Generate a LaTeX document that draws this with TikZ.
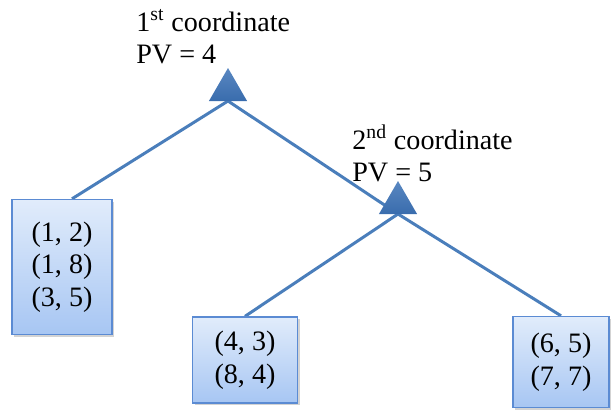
\documentclass[tikz,border=0pt]{standalone}
\usepackage{fontspec}
\setmainfont{Liberation Serif}
\definecolor{kdline}{RGB}{74,126,187}
\definecolor{kdtri}{RGB}{60,114,182}
\definecolor{kdboxtop}{RGB}{225,236,251}
\definecolor{kdboxbot}{RGB}{167,198,243}
\definecolor{kdborder}{RGB}{91,139,211}
\usetikzlibrary{positioning,shapes.geometric,shadows,backgrounds}

\begin{document}
\begin{tikzpicture}[x=0.02cm,y=-0.02cm,
  leaf/.style={draw=kdborder,line width=0.8pt,top color=kdboxtop,bottom color=kdboxbot,drop shadow={shadow xshift=1.2pt,shadow yshift=-1.2pt,opacity=0.35},font=\fontsize{16}{18.5}\selectfont,align=center,inner sep=0pt},
  split/.style={regular polygon,regular polygon sides=3,minimum size=0.88cm,inner sep=0pt,outer sep=0pt,anchor=south,top color=kdtri!85!white,bottom color=kdtri!95!black,draw=none},
  label/.style={font=\fontsize{16}{18.5}\selectfont,align=left,anchor=north west,inner sep=0pt},
  edge/.style={draw=kdline,line width=1.7pt}]
  \useasboundingbox (0,0) rectangle (611,410);
  % Splitting points
  \node[split] (s1) at (228,101) {};
  \node[split] (s2) at (398,214) {};
  \node[label] (l1) at (136,9) {1\textsuperscript{st} coordinate\\PV = 4};
  \node[label] (l2) at (352,124) {2\textsuperscript{nd} coordinate\\PV = 5};
  % Leaves
  \node[leaf,minimum width=2cm,minimum height=2.7cm] (b1) at (62,267) {(1, 2)\\(1, 8)\\(3, 5)};
  \node[leaf,minimum width=2.1cm,minimum height=1.72cm] (b2) at (245,360) {(4, 3)\\(8, 4)};
  \node[leaf,minimum width=1.92cm,minimum height=1.82cm] (b3) at (561,362) {(6, 5)\\(7, 7)};
  % Edges
  \begin{scope}[on background layer]
    \draw[edge] (s1.south) -- ([xshift=0.2cm]b1.north);
    \draw[edge] (s1.south) -- (s2.south);
    \foreach \b in {b2,b3} \draw[edge] (s2.south) -- (\b.north);
  \end{scope}
\end{tikzpicture}
\end{document}
